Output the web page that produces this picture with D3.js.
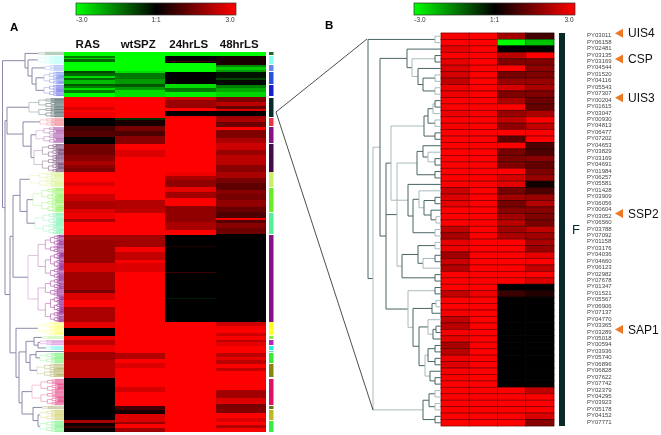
<!DOCTYPE html>
<html>
<head>
<meta charset="utf-8">
<script src="https://cdn.jsdelivr.net/npm/d3@7"></script>
<style>
  html, body { margin: 0; padding: 0; background: #fff; }
  svg { display: block; filter: blur(0.4px); font-family: "Liberation Sans", Arial, sans-serif; }
</style>
</head>
<body>
<script>
const width = 661, height = 435;

// panel A: runs of [number of genes, log ratio], top to bottom, one list per condition
const conditions = ["RAS", "wtSPZ", "24hrLS", "48hrLS"];
const rasRuns = [[4,-3],[2,-1.5],[1,-2.5],[3,-1.2],[9,-3],[2,-0.8],[3,-1.2],[2,-2.6],[2,-1.2],[4,-2.2],[2,-1],[2,-1.5],[2,-2.6],[3,-1.5],[4,-3],
  [10,3],[3,2.6],[2,3],[6,2.8],[8,0],[5,0.8],[6,1],[7,0],[5,1.4],[6,1.3],[6,1.6],[4,2],[3,1.7],[4,1.5],
  [10,3],[4,2.6],[8,3],[7,2.4],[8,2],[4,2.6],[6,2.8],[3,2],[13,3],[5,1.9],[6,1.8],[17,1.8],[9,2.5],[18,1.9],[3,1.4],[7,2.6],[7,3],
  [15,2],[6,2.7],[8,0],[4,2.8],[5,2.2],[7,2.8],[8,1.9],[4,2.2],[14,2.2],[42,0],[3,2],[3,0.2],[2,0.7],[4,0.1]];
const spzRuns = [[19,-3],[2,-2.6],[6,-1.4],[5,-1.8],[3,-1],[3,-1.8],[7,-2.6],[21,3],[2,-0.6],[6,0.3],[5,1.4],[5,0.9],[8,1.6],[6,3],[7,2.6],[43,3],[8,2.1],[5,2.2],[22,3],
  [12,1.9],[5,2.9],[8,2.3],[3,2.9],[9,2.6],[81,3],[6,2.1],[4,3],[5,2.6],[19,3],[5,2.5],[14,3],[4,0.8],[4,0.3],[8,2.6],[2,1.8],[4,3],[4,1.9]];
const ls24Runs = [[4,-3],[5,0],[1,0.8],[1,0],[9,-3],[12,0],[4,-2.6],[4,-1.4],[5,-2.8],[3,2.4],[8,1.8],[3,3],[5,0],[2,2.8],[54,3],[4,2.8],[4,2],[7,1.7],[5,2.7],[6,1.9],[8,3],[16,1.7],[8,2],[5,3],
  [11,0],[1,0.4],[25,0],[1,0.7],[25,0],[1,-0.3],[23,0],[110,3]];
const ls48Runs = [[4,-3],[9,0.3],[2,-1.6],[3,-2.4],[2,-1.8],[6,-0.2],[2,-0.8],[5,-0.1],[3,-1.5],[4,-2],[5,-2.5],[5,1.5],[4,2.2],[3,1.2],[2,2.6],[5,0],[2,1.9],[4,2],[5,1.3],[3,3],[8,1.5],[5,2],[7,2.4],[5,1.8],[10,2.2],[7,1.6],
  [6,2],[5,1.4],[7,1.1],[4,1.6],[6,1.4],[7,1.7],[5,1.2],[6,0.9],[2,2.9],[3,1],[5,1.6],[6,1.3],[88,0],[4,2.4],[3,2.9],[4,3],[3,2.4],[4,2.9],[2,2.2],[4,2.7],[7,3],[4,2.2],[3,2.7],[4,2.2],[4,3],[3,2.3],[19,3],[8,1.9],[6,2.6],[3,1.4],[6,1.5],[5,3],[4,2.6],[3,3],[3,2.1],[4,2.9]];
const runsA = [rasRuns, spzRuns, ls24Runs, ls48Runs];
const genesA = 380;

// panel A clusters: gene range and colour
const clusterRows = [[0,3],[4,12],[13,19],[20,32],[33,44],[46,65],[66,74],[75,91],[92,120],[120,135],[136,160],[161,182],[183,270],[270,283],[284,287],[288,293],[294,298],[299,300],[301,311],[312,325],[327,353],[354,357],[358,368],[369,380]];
const clusterColors = ["#1a6a2a","#88ffee","#6688ee","#2a50e0","#1a20d0","#0a2a2a","#ee3344","#881188","#440a4a","#ccee66","#66ee22","#55ee99","#881188","#ffff22","#88ee44","#bb22bb","#22eedd","#66ddaa","#33ee33","#888811","#dd1166","#667711","#bbbb22","#33ee44"];

// panel B: genes and the four values of each
const geneNames = ["PY03011","PY06158","PY02481","PY03135","PY03169","PY04544","PY01520","PY04116","PY05543","PY07307","PY00204","PY01615","PY03047","PY00930","PY04813","PY06477","PY07202","PY04653","PY03829","PY03169","PY04691","PY01984","PY06257","PY05581","PY01428","PY03909","PY06056","PY00604","PY03052","PY06560","PY03788","PY07092","PY01158","PY03176","PY04036","PY04660","PY06123","PY02982","PY07678","PY01347","PY01521","PY05567","PY06906","PY07137","PY04770","PY03365","PY03289","PY05018","PY00594","PY03936","PY05740","PY06896","PY06828","PY07622","PY07742","PY02379","PY04295","PY03923","PY05178","PY04152","PY07771"];
const rasB = [2.9,3,2.7,3,2.7,2.6,2.5,2.3,2.8,2.8,3,3,2.8,3,2.9,3,3,3,3,3,3,3,3,3,2.4,2.6,2.7,3,3,3,2.3,2,2.7,2.8,1.9,2.4,2.1,3,3,3,2.3,3,3,2.9,2.3,2.2,2.9,2.7,2,2.2,2.8,2.6,2.9,2.9,3,3,3,3,3,3,3];
const spzB = [3,3,3,3,3,3,3,3,3,3,3,3,2.9,3,3,3,3,3,3,3,3,3,3,3,3,3,3,3,3,3,3,3,3,3,3,3,3,3,3,3,2.8,3,3,3,3,3,3,3,3,3,3,3,3,3,3,3,3,3,3,3,3];
const ls24B = [1.9,-3,0,2.2,1.5,3,1.4,1.8,2.5,1.5,2,3,1.8,2.3,1.7,3,1.1,3,1.4,1.5,1.5,3,2.5,2.7,1.4,1.9,1.4,1.6,1.9,2.2,1.9,2,3,3,3,3,3,3,3,0,0.7,0,0,0,0,0,0,0,0,0,0,0,0,0,0,3,3,3,3,3,3];
const ls48B = [0.8,-2.3,0,3,1.5,1.7,1.5,1.8,2,1.5,1.3,1.2,2,3,2.3,3,3,0.9,0.9,1.6,1.2,1.5,1.8,0.2,0.9,1.8,2.1,1.6,1.5,1.4,2.3,1.9,2,1.8,2.7,3,2.3,3,2.6,0,0.4,0,0,0,0,0,0,0,0,0,0,0,0,0,0,2.3,3,3,3,2.6,1.6];
const valuesB = [rasB, spzB, ls24B, ls48B];

const markerNames = ["UIS4", "CSP", "UIS3", "SSP2", "SAP1"];
const markerRows = [0, 4, 10, 28, 46];
const legendTicks = ["-3.0", "1:1", "3.0"];

const color = d3.scaleLinear().domain([-3, 0, 3]).range(["#00ff00", "#000000", "#ff0000"]).clamp(true);

const svg = d3.select("body").append("svg")
  .attr("width", width)
  .attr("height", height);

// scales
const xA = d3.scaleBand().domain(conditions).range([64, 266]);
const yA = d3.scaleLinear().domain([0, genesA]).range([52, 432]);
const distA = d3.scaleLinear().domain([62, 0]).range([2, 64]);
const xB = d3.scaleBand().domain(conditions).range([441, 554]);
const yB = d3.scaleBand().domain(d3.range(geneNames.length)).range([33, 426]);
const distB = d3.scaleLinear().domain([73, 0]).range([368, 441]);

// tree helpers
const n = (d, children) => ({ d, children });
const leaf = row => ({ d: 0, row });
const pair = (d, i, j) => n(d, [leaf(i), leaf(j)]);
const fractions = [0.5, 0.4, 0.6, 0.45, 0.55];

// one colour cluster of panel A: bisected down to single lines
function split(lo, hi, d, col, depth) {
  if (hi - lo <= 1.1) return { d: 0, row: (lo + hi) / 2, col, depth };
  const mid = lo + (hi - lo) * fractions[depth % fractions.length];
  return { d, col, depth, children: [split(lo, mid, d * 0.72, col, depth + 1), split(mid, hi, d * 0.72, col, depth + 1)] };
}
const c = (i, d) => split(clusterRows[i][0], clusterRows[i][1], d, clusterColors[i], 0);

function drawTree(root, rowY, dist, strokeOf, g, widthOf) {
  const h = d3.hierarchy(root);
  h.eachAfter(node => {
    node.y0 = node.children
      ? (node.children[0].y0 + node.children[node.children.length - 1].y0) / 2
      : rowY(node.data.row);
    node.x0 = dist(node.data.d);
  });
  const nodes = h.descendants().filter(node => node.children);
  nodes.forEach(node => {
    const p = d3.path();
    const first = node.children[0], last = node.children[node.children.length - 1];
    p.moveTo(first.x0, first.y0);
    p.lineTo(node.x0, first.y0);
    p.lineTo(node.x0, last.y0);
    p.lineTo(last.x0, last.y0);
    node.children.slice(1, -1).forEach(ch => { p.moveTo(node.x0, ch.y0); p.lineTo(ch.x0, ch.y0); });
    g.append("path").attr("d", p.toString()).attr("fill", "none")
      .attr("stroke", strokeOf(node)).attr("stroke-width", widthOf(node));
  });
  return h;
}

// panel A heat map
const heatA = svg.append("g");
conditions.forEach((name, i) => {
  let start = 0;
  runsA[i].forEach(([count, value]) => {
    heatA.append("rect")
      .attr("x", xA(name))
      .attr("y", yA(start))
      .attr("width", xA.bandwidth())
      .attr("height", yA(start + count) - yA(start))
      .attr("fill", color(value))
      .attr("shape-rendering", "crispEdges");
    start += count;
  });
});

svg.append("g").selectAll("text")
  .data(conditions)
  .join("text")
  .attr("x", d => xA(d) + xA.bandwidth() / 2 - 1.5)
  .attr("y", 48)
  .attr("text-anchor", "middle")
  .attr("font-size", 11.5)
  .attr("font-weight", "bold")
  .attr("fill", "#111")
  .text(d => d);

// panel A cluster bar
svg.append("g").selectAll("rect")
  .data(clusterRows)
  .join("rect")
  .attr("x", 269)
  .attr("width", 4.5)
  .attr("y", d => yA(d[0]))
  .attr("height", d => yA(d[1]) - yA(d[0]))
  .attr("fill", (d, i) => clusterColors[i]);

// panel A dendrogram
const treeA = n(61.5, [
  n(39, [c(0, 26), n(36, [c(1, 26), n(32, [c(2, 19), n(28, [c(3, 20), c(4, 20)])])])]),
  n(59, [
    n(57, [c(5, 35), n(41, [c(6, 24), n(33, [c(7, 28), c(8, 30)])])]),
    n(54, [
      n(51, [n(44, [c(9, 34), n(37, [c(10, 31), c(11, 29)])]), c(12, 36)]),
      n(48, [
        c(13, 26),
        n(45, [
          n(38, [n(30, [c(14, 22), n(26, [c(15, 24), c(16, 18)])]), n(34, [n(28, [c(17, 16), c(18, 24)]), c(19, 27)])]),
          n(42, [c(20, 32), n(31, [c(21, 22), n(26, [c(22, 24), c(23, 24)])])])
        ])
      ])
    ])
  ])
]);
drawTree(treeA, yA, distA, node => {
  if (!node.data.col) return "#8a8aa8";
  const pale = d3.interpolateRgb("#ffffff", node.data.col)(0.35);
  return d3.interpolateRgb(pale, node.data.col)(Math.min(1, node.data.depth / 7));
}, svg.append("g"), node => node.data.col ? 0.7 : 1);

// panel B heat map, the grid line is a darker shade of each cell
conditions.forEach((name, i) => {
  svg.append("g").selectAll("rect")
    .data(valuesB[i])
    .join("rect")
    .attr("x", xB(name))
    .attr("y", (d, row) => yB(row))
    .attr("width", xB.bandwidth())
    .attr("height", yB.bandwidth())
    .attr("fill", d => color(d))
    .attr("stroke", d => color(d * 0.55))
    .attr("stroke-width", 0.8);
});

// panel B dendrogram
const groupTop = n(34, [leaf(2), n(29, [pair(6, 3, 4), n(23, [leaf(5), n(18, [pair(6, 6, 7), pair(6, 8, 9)])])])]);
const groupUis3 = n(17, [n(13, [n(8, [pair(6, 10, 11), leaf(12)]), pair(6, 13, 14)]), pair(6, 15, 16)]);
const groupSsp2 = n(33, [leaf(23), n(28, [n(22, [leaf(24), n(17, [pair(6, 25, 26), n(10, [leaf(27), pair(5, 28, 29)])])]), pair(6, 30, 31)])]);
const groupMid = n(24, [n(18, [leaf(17), n(13, [leaf(18), pair(6, 19, 20)])]), pair(6, 21, 22)]);
const groupLow = n(39, [n(23, [pair(6, 32, 33), n(18, [pair(6, 34, 35), leaf(36)])]), pair(6, 37, 38)]);
const groupSap1 = n(33, [pair(6, 39, 40), n(28, [
  n(9, [pair(5, 41, 42), leaf(43)]),
  n(22, [
    n(13, [leaf(44), n(8, [pair(5, 45, 46), leaf(47)])]),
    n(16, [n(13, [pair(6, 48, 49), pair(6, 50, 51)]), n(11, [leaf(52), pair(6, 53, 54)])])
  ])
])]);
const groupEnd = n(18, [n(12, [pair(6, 55, 56), pair(6, 57, 58)]), pair(6, 59, 60)]);
const treeB = n(73, [
  pair(6, 0, 1),
  n(68, [
    n(61, [groupTop, n(55, [n(50, [groupUis3, groupSsp2]), n(44, [groupMid, groupLow]), groupSap1])]),
    groupEnd
  ])
]);
drawTree(treeB, row => yB(row) + yB.bandwidth() / 2, distB,
  node => node.depth % 3 === 1 ? "#a9baba" : "#4a6464", svg.append("g"), () => 1);

// panel B side bar, gene names, markers
svg.append("rect")
  .attr("x", 559).attr("y", 33).attr("width", 6).attr("height", 393)
  .attr("fill", "#0a2a2a");

svg.append("g").selectAll("text")
  .data(geneNames)
  .join("text")
  .attr("x", 587)
  .attr("y", (d, row) => yB(row) + yB.bandwidth() / 2 + 1)
  .attr("font-size", 6)
  .attr("fill", "#444")
  .text(d => d);

svg.append("text").attr("x", 572).attr("y", 234)
  .attr("font-size", 13).attr("fill", "#0a2a2a").text("F");

const marker = svg.append("g").selectAll("g")
  .data(markerNames)
  .join("g")
  .attr("transform", (d, i) => `translate(0,${yB(markerRows[i]) + yB.bandwidth() / 2 - 3})`);
marker.append("path").attr("d", "M615,0L623,-4.5L623,4.5Z").attr("fill", "#ee7722");
marker.append("text").attr("x", 628).attr("y", 4).attr("font-size", 12).attr("fill", "#111").text(d => d);

// panel letters
svg.append("text").attr("x", 10).attr("y", 31).attr("font-size", 11.5).attr("font-weight", "bold").text("A");
svg.append("text").attr("x", 325).attr("y", 29).attr("font-size", 11.5).attr("font-weight", "bold").text("B");

// zoom lines between the panels
svg.append("path")
  .attr("d", "M367,39L276,112L373,410")
  .attr("fill", "none").attr("stroke", "#222").attr("stroke-width", 0.8);

// colour legends
const defs = svg.append("defs");
const grad = defs.append("linearGradient").attr("id", "legend-grad");
grad.selectAll("stop")
  .data(color.domain())
  .join("stop")
  .attr("offset", d => (d + 3) / 6)
  .attr("stop-color", d => color(d));

[[76, 236], [414, 575]].forEach(range => {
  const g = svg.append("g");
  const legendX = d3.scalePoint().domain(legendTicks).range(range).padding(0.08);
  g.append("rect")
    .attr("x", range[0]).attr("y", 3)
    .attr("width", range[1] - range[0]).attr("height", 12)
    .attr("fill", "url(#legend-grad)")
    .attr("stroke", "#333").attr("stroke-width", 0.7);
  g.selectAll("text")
    .data(legendTicks)
    .join("text")
    .attr("x", d => legendX(d))
    .attr("y", 22)
    .attr("text-anchor", "middle")
    .attr("font-size", 6.5)
    .attr("fill", "#333")
    .text(d => d);
});
</script>
</body>
</html>
